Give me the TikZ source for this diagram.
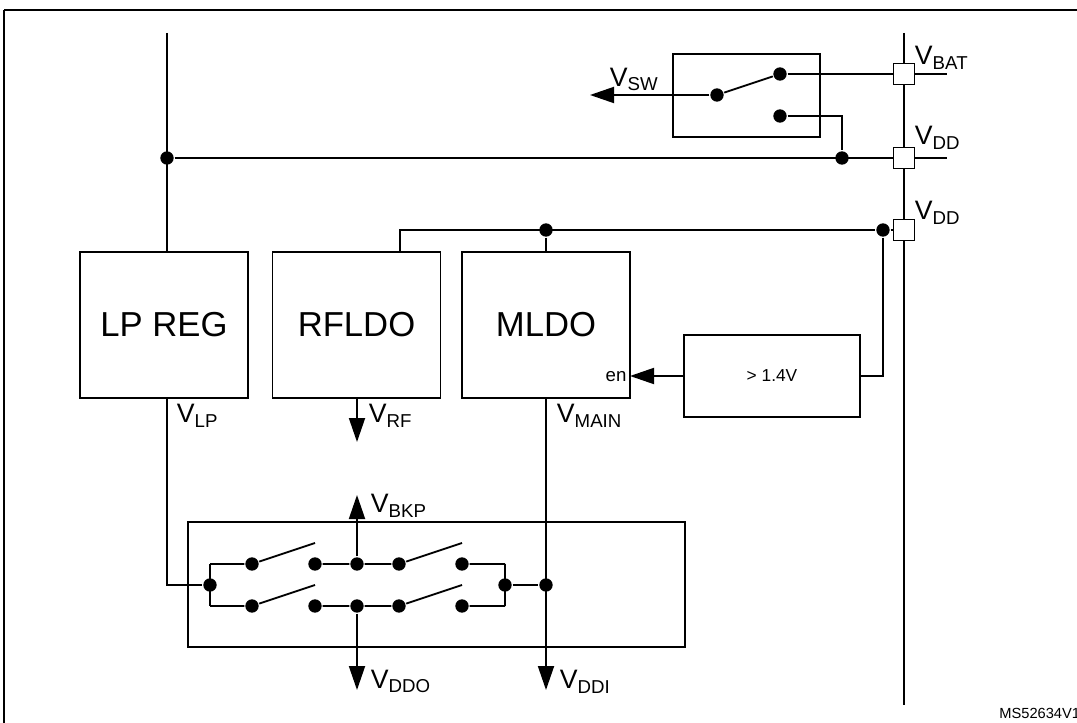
\documentclass[tikz,border=0pt]{standalone}
\usepackage{fontspec}
\setmainfont{Liberation Sans}
\usetikzlibrary{arrows.meta}
\begin{document}
\begin{tikzpicture}[x=0.75pt,y=-0.75pt,line width=1.4pt,
  dot/.style={circle,fill,inner sep=0pt,minimum size=10pt},
  pin/.style={draw,fill=white,minimum size=16pt,inner sep=0pt,line width=1.2pt},
  blk/.style={draw,minimum width=126pt,minimum height=109pt,font=\fontsize{26}{30}\selectfont},
  lbl/.style={font=\fontsize{20}{22}\selectfont,inner sep=0pt,anchor=south west},
  arr/.style={-{Triangle[length=18pt,width=12pt]}}]
\useasboundingbox (0,0) rectangle (1077,723);
\draw (4,10) -- (1090,10) (4,10) -- (4,730);
% bus
\coordinate (bt) at (904,33); \coordinate (bb) at (904,705);
\draw (bt) -- (bb);
\draw (167,33) -- (167,252);
\node[pin] (p1) at (904,74) {};
\node[pin] (p2) at (904,158) {};
\node[pin] (p3) at (904,230) {};
\draw (p1.east) -- (947,74); \draw (p2.east) -- (947,158);
\node[lbl] at (914,70) {V\textsubscript{BAT}};
\node[lbl] at (914,150) {V\textsubscript{DD}};
\node[lbl] at (914,225) {V\textsubscript{DD}};
% vdd line
\node[dot] (j1) at (167,158) {};
\node[dot] (j2) at (842,158) {};
\draw (j1) -- (p2.west);
% switch box
\draw (673,54) rectangle (820,137);
\node[dot] (s0) at (717,95) {};
\node[dot] (s1) at (780,74) {};
\node[dot] (s2) at (780,116) {};
\coordinate (vsw) at (590,95);
\draw (s0) -- (s1); \draw (s1) -- (p1.west);
\draw[arr] (s0) -- (vsw);
\node[lbl] at (609,92) {V\textsubscript{SW}};
\draw (s2) -- (842,116) -- (j2);
% blocks
\node[blk] (lp) at (164,325) {LP REG};
\node[blk] (rf) at (356.5,325) {RFLDO};
\node[blk] (ml) at (546,325) {MLDO};
\node[font=\fontsize{14}{16}\selectfont,inner sep=0pt] (en) at (616,377) {en};
\node[draw,minimum width=132pt,minimum height=62pt,font=\fontsize{13}{15}\selectfont] (cmp) at (772,376) {> 1.4V};
\node[dot] (j3) at (546,230) {};
\node[dot] (j4) at (883,230) {};
\draw (400,252) -- (400,230) -- (j4) -- (p3.west);
\draw (j3) -- (546,252);
\draw (j4) -- (883,376) -- (cmp.east);
\coordinate (ena) at (630,376);
\draw[arr] (cmp.west) -- (ena);
% outputs
\node[lbl] at (176,428) {V\textsubscript{LP}};
\node[lbl] at (368,428) {V\textsubscript{RF}};
\node[lbl] at (556,428) {V\textsubscript{MAIN}};
\coordinate (vrf) at (357,442);
\draw[arr] (357,398) -- (vrf);
% bottom box
\draw (188,522) rectangle (685,647);
\node[dot] (L) at (210,585) {};
\node[dot] (R) at (505,585) {};
\node[dot] (M) at (546,585) {};
\draw (167,398) -- (167,585) -- (L);
\draw (R) -- (M);
\foreach \y/\yy/\n in {564/543/t,606/585/b}{
  \node[dot] (\n1) at (252,\y) {};
  \node[dot] (\n2) at (315,\y) {};
  \node[dot] (\n3) at (357,\y) {};
  \node[dot] (\n4) at (399,\y) {};
  \node[dot] (\n5) at (462,\y) {};
  \draw (210,\y) -- (\n1) (\n1) -- (315,\yy) (\n2) -- (\n3) -- (\n4) -- (462,\yy) (\n5) -- (505,\y);
}
\draw (210,564) -- (210,606) (505,564) -- (505,606);
\coordinate (vbkp) at (357,495);
\draw[arr] (t3) -- (vbkp);
\node[lbl] at (370,518) {V\textsubscript{BKP}};
\coordinate (vddo) at (357,690);
\draw[arr] (b3) -- (vddo);
\node[lbl] at (370,694) {V\textsubscript{DDO}};
\coordinate (vddi) at (546,690);
\draw[arr] (546,398) -- (vddi);
\node[lbl] at (559,694) {V\textsubscript{DDI}};
\node[anchor=east,font=\fontsize{11}{13}\selectfont,inner sep=0pt] at (1081,713) {MS52634V1};
\end{tikzpicture}
\end{document}
